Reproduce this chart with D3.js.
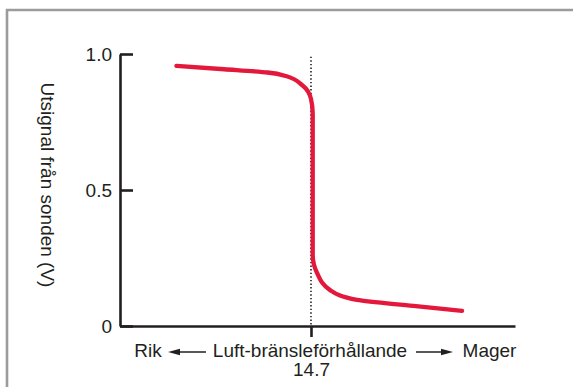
<!DOCTYPE html>
<html>
<head>
<meta charset="utf-8">
<script src="https://cdn.jsdelivr.net/npm/d3@7"></script>
<style>
  html, body { margin: 0; padding: 0; background: #fff; }
  svg { display: block; }
  text { font-family: "Liberation Sans", Arial, Helvetica, sans-serif; fill: #231f20; }
</style>
</head>
<body>
<svg id="chart" width="573" height="387"></svg>
<script>
// ---- data ----
const ratio  = [13.15, 13.70, 14.20, 14.42, 14.60, 14.70, 14.72, 14.72, 14.72, 14.77, 14.92, 15.23, 15.88, 16.44];
const signal = [0.956, 0.944, 0.932, 0.918, 0.885, 0.835, 0.78, 0.53, 0.26, 0.195, 0.132, 0.096, 0.074, 0.056];
const yTicks = [0, 0.5, 1.0];
const yTickLabels = ["0", "0.5", "1.0"];
const stoich = 14.7;
const xTickLabels = ["14.7"];
const yTitle = "Utsignal från sonden (V)";
const xTitle = "Luft-bränsleförhållande";
const leftLabel = "Rik";
const rightLabel = "Mager";

// ---- layout ----
const svg = d3.select("#chart");
const W = 573, H = 387;
const x = d3.scaleLinear().domain([12.5, 17.05]).range([120, 515]);
const y = d3.scaleLinear().domain([0, 1]).range([326, 54]);
const ink = "#231f20";
const fs = 19;

svg.append("rect").attr("width", W).attr("height", H).attr("fill", "#fff");

// frame
svg.append("path")
  .attr("d", `M7,${H + 2} L7,10 L${W + 2},10`)
  .attr("fill", "none").attr("stroke", "#9b9b9b").attr("stroke-width", 2.6);

// dotted stoichiometric line
svg.append("line")
  .attr("x1", x(stoich)).attr("x2", x(stoich))
  .attr("y1", y(0.99)).attr("y2", y(0))
  .attr("stroke", ink).attr("stroke-width", 1.6)
  .attr("stroke-dasharray", "1.4,2.2");

// y axis
const yAxis = d3.axisLeft(y)
  .tickValues(yTicks)
  .tickFormat((d, i) => yTickLabels[i])
  .tickSizeInner(-13).tickSizeOuter(0).tickPadding(8);
const gy = svg.append("g").attr("transform", "translate(120,0)").call(yAxis);
gy.select(".domain").attr("stroke", ink).attr("stroke-width", 2.6);
gy.selectAll(".tick line").attr("stroke", ink).attr("stroke-width", 2.6);
gy.selectAll(".tick text").attr("font-size", fs).attr("font-family", null).attr("fill", ink);

// x axis
const xAxis = d3.axisBottom(x)
  .tickValues([stoich])
  .tickFormat((d, i) => xTickLabels[i])
  .tickSizeInner(11).tickSizeOuter(0).tickPadding(26);
const gx = svg.append("g").attr("transform", "translate(0,326)").call(xAxis);
gx.select(".domain").attr("stroke", ink).attr("stroke-width", 2.6);
gx.selectAll(".tick line").attr("stroke", ink).attr("stroke-width", 2.6);
gx.selectAll(".tick text").attr("font-size", fs).attr("font-family", null).attr("fill", ink);

// red curve
const pts = ratio.map((r, i) => [r, signal[i]]);
const line = d3.line().x(d => x(d[0])).y(d => y(d[1])).curve(d3.curveMonotoneY);
svg.append("path")
  .attr("d", line(pts))
  .attr("fill", "none").attr("stroke", "#e4183a").attr("stroke-width", 4.3)
  .attr("stroke-linecap", "round").attr("stroke-linejoin", "round");

// y title
svg.append("text")
  .attr("transform", "translate(47,185) rotate(90)")
  .attr("text-anchor", "middle").attr("dominant-baseline", "central")
  .attr("font-size", fs).text(yTitle);

// x title row
const rowY = 357;
svg.append("text").attr("x", 148).attr("y", rowY).attr("text-anchor", "middle").attr("font-size", fs).text(leftLabel);
svg.append("text").attr("x", 310).attr("y", rowY).attr("text-anchor", "middle").attr("font-size", fs).text(xTitle);
svg.append("text").attr("x", 489.5).attr("y", rowY).attr("text-anchor", "middle").attr("font-size", fs).text(rightLabel);

function arrow(x0, x1, yy) {
  const dir = Math.sign(x1 - x0);
  const hl = 12, hw = 3.2;
  svg.append("line").attr("x1", x0).attr("x2", x1 - dir * hl).attr("y1", yy).attr("y2", yy)
    .attr("stroke", ink).attr("stroke-width", 1.5);
  svg.append("path")
    .attr("d", `M${x1},${yy} L${x1 - dir * hl},${yy - hw} L${x1 - dir * hl},${yy + hw} Z`)
    .attr("fill", ink);
}
arrow(206, 168, 352);
arrow(416, 453, 352);
</script>
</body>
</html>
